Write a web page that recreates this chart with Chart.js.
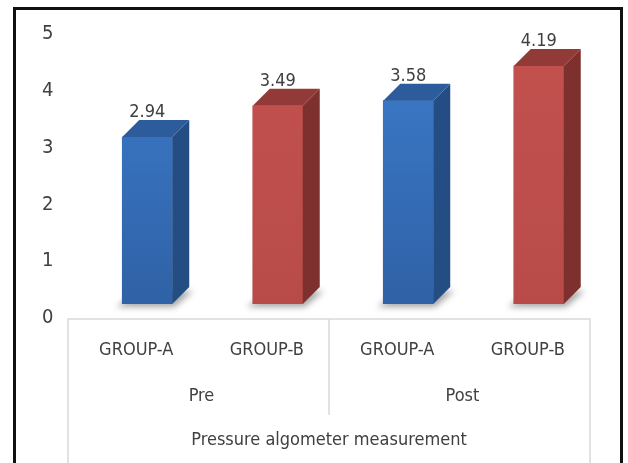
<!DOCTYPE html>
<html>
<head>
<meta charset="utf-8">
<script src="https://cdn.jsdelivr.net/npm/chart.js@4.4.1/dist/chart.umd.min.js"></script>
<style>
  html, body { margin: 0; padding: 0; background: #fff; }
  #wrap { position: relative; width: 628px; height: 463px; overflow: hidden; }
  #frame { position: absolute; left: 13px; top: 7px; width: 604px; height: 470px;
           border: 3px solid #111; border-bottom: none; }
  #chart { position: absolute; left: 0; top: 0; }
</style>
</head>
<body>
<div id="wrap">
  <div id="frame"></div>
  <canvas id="chart" width="628" height="463"></canvas>
</div>
<script>
// data
const groups = ['GROUP-A', 'GROUP-B', 'GROUP-A', 'GROUP-B'];
const phases = ['Pre', 'Post'];
const values = [2.94, 3.49, 3.58, 4.19];
const yTicks = [0, 1, 2, 3, 4, 5];
const axisTitle = 'Pressure algometer measurement';

// look
const FONT = "'Liberation Sans Narrow', 'DejaVu Sans Condensed', sans-serif";
const TEXT = '#404040';
const DEPTH = 17;      // 3d offset of side/top faces
const SHIFT = 14;      // floor/axis box sits left of the bars
const faces = {
    blue: { front: ['#3d7dce', '#2f62a6'], side: '#244d84', top: '#2c5c9b' },
    red:  { front: ['#c4524f', '#b84b48'], side: '#7e302e', top: '#923a37' }
};
const barColor = values.map((v, i) => i % 2 === 0 ? faces.blue : faces.red);

// draws side + top faces, base shadow and value labels
const bars3d = {
    id: 'bars3d',
    beforeDatasetsDraw(chart) {
        const ctx = chart.ctx;
        chart.getDatasetMeta(0).data.forEach(bar => {
            const { x, base, width } = bar.getProps(['x', 'base', 'width'], true);
            const l = x - width / 2, r = x + width / 2;
            ctx.save();
            ctx.filter = 'blur(3px)';
            ctx.fillStyle = 'rgba(0,0,0,0.35)';
            ctx.beginPath();
            ctx.moveTo(l - 6, base + 3);
            ctx.lineTo(r + 2, base + 3);
            ctx.lineTo(r + DEPTH + 4, base - DEPTH + 4);
            ctx.lineTo(l + DEPTH, base - DEPTH + 4);
            ctx.closePath();
            ctx.fill();
            ctx.restore();
        });
    },
    afterDatasetsDraw(chart) {
        const ctx = chart.ctx;
        chart.getDatasetMeta(0).data.forEach((bar, i) => {
            const { x, y, base, width } = bar.getProps(['x', 'y', 'base', 'width'], true);
            const l = x - width / 2, r = x + width / 2;
            const c = barColor[i];
            ctx.save();
            // side face
            ctx.fillStyle = c.side;
            ctx.beginPath();
            ctx.moveTo(r, y);
            ctx.lineTo(r + DEPTH, y - DEPTH);
            ctx.lineTo(r + DEPTH, base - DEPTH);
            ctx.lineTo(r, base);
            ctx.closePath();
            ctx.fill();
            // top face
            ctx.fillStyle = c.top;
            ctx.beginPath();
            ctx.moveTo(l, y);
            ctx.lineTo(l + DEPTH, y - DEPTH);
            ctx.lineTo(r + DEPTH, y - DEPTH);
            ctx.lineTo(r, y);
            ctx.closePath();
            ctx.fill();
            // value label
            ctx.fillStyle = TEXT;
            ctx.font = '18px ' + FONT;
            ctx.textAlign = 'center';
            ctx.textBaseline = 'alphabetic';
            ctx.fillText(values[i].toFixed(2), x, y - DEPTH - 3);
            ctx.restore();
        });
    }
};

// multi-level category box under the bars
const axisBox = {
    id: 'axisBox',
    afterDraw(chart) {
        const ctx = chart.ctx;
        const xs = chart.scales.x;
        const area = chart.chartArea;
        const left = area.left - SHIFT, right = area.right - SHIFT;
        const top = area.bottom + 15;
        const mid = (xs.getPixelForValue(1) + xs.getPixelForValue(2)) / 2 - SHIFT;
        ctx.save();
        ctx.strokeStyle = '#d9d9d9';
        ctx.lineWidth = 1.5;
        ctx.beginPath();
        ctx.moveTo(left, chart.height);
        ctx.lineTo(left, top);
        ctx.lineTo(right, top);
        ctx.lineTo(right, chart.height);
        ctx.moveTo(mid, top);
        ctx.lineTo(mid, 415);
        ctx.stroke();

        ctx.fillStyle = TEXT;
        ctx.font = '18px ' + FONT;
        ctx.textAlign = 'center';
        ctx.textBaseline = 'middle';
        phases.forEach((p, k) => {
            const a = xs.getPixelForValue(k * 2), b = xs.getPixelForValue(k * 2 + 1);
            ctx.fillText(p, (a + b) / 2 - 11, 396);
        });
        ctx.fillText(axisTitle, (left + right) / 2, 440);
        ctx.restore();
    }
};

const ctx = document.getElementById('chart').getContext('2d');
const chart = new Chart(ctx, {
    type: 'bar',
    data: {
        labels: groups,
        datasets: [{
            data: values,
            backgroundColor: (c) => {
                const area = c.chart.chartArea;
                const col = barColor[c.dataIndex];
                if (!area || !col) return '#3d7dce';
                const g = c.chart.ctx.createLinearGradient(0, area.top, 0, area.bottom);
                g.addColorStop(0, col.front[0]);
                g.addColorStop(1, col.front[1]);
                return g;
            },
            borderWidth: 0,
            barThickness: 50
        }]
    },
    options: {
        responsive: false,
        animation: false,
        layout: { padding: { top: 20, right: 24, left: 42, bottom: 0 } },
        plugins: {
            legend: { display: false },
            tooltip: { enabled: false }
        },
        scales: {
            x: {
                grid: { display: false, drawTicks: false },
                border: { display: false },
                ticks: {
                    color: TEXT,
                    font: { family: FONT, size: 18 },
                    padding: 36,
                    labelOffset: -11,
                    maxRotation: 0
                },
                afterFit: (s) => { s.height = 159; }
            },
            y: {
                min: yTicks[0],
                max: yTicks[yTicks.length - 1],
                afterBuildTicks: (s) => { s.ticks = yTicks.map(v => ({ value: v })); },
                grid: { display: false, drawTicks: false },
                border: { display: false },
                ticks: {
                    color: TEXT,
                    font: { family: FONT, size: 20 },
                    padding: 0,
                    crossAlign: 'far',
                    labelOffset: 14
                },
                afterFit: (s) => { s.width = 40; }
            }
        }
    },
    plugins: [bars3d, axisBox]
});
</script>
</body>
</html>
